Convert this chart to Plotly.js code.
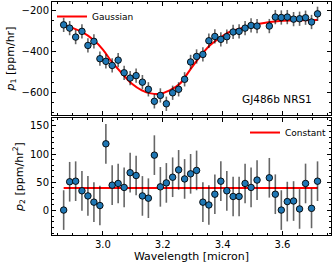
<!DOCTYPE html>
<html>
<head>
<meta charset="utf-8">
<script src="https://cdn.plot.ly/plotly-3.0.1.min.js"></script>
<style>html,body{margin:0;padding:0;background:#fff;}#chart{width:332px;height:266px;}</style>
</head>
<body>
<div id="chart"></div>
<script>
// Wavelength bins (micron)
const wavelength = [2.869, 2.889, 2.909, 2.930, 2.950, 2.970, 2.990, 3.010, 3.031, 3.051,
  3.071, 3.091, 3.111, 3.132, 3.152, 3.172, 3.192, 3.212, 3.233, 3.253,
  3.273, 3.293, 3.313, 3.334, 3.354, 3.374, 3.394, 3.414, 3.435, 3.455,
  3.475, 3.495, 3.515, 3.556, 3.576, 3.596, 3.616, 3.637, 3.657, 3.677,
  3.697, 3.717];
// p1 [ppm/hr]
const p1 = [-269, -285, -329, -301, -370, -350, -435, -448, -468, -442,
  -504, -530, -518, -550, -585, -644, -615, -656, -602, -585,
  -536, -451, -424, -414, -347, -326, -340, -327, -304, -301,
  -285, -272, -275, -275, -231, -233, -231, -241, -239, -234,
  -255, -215];
const p1Err = [35, 35, 35, 35, 35, 35, 35, 35, 35, 35, 35, 35, 35, 35, 35, 35, 35, 35, 35, 35, 35,
  35, 35, 35, 35, 35, 35, 35, 35, 35, 35, 35, 35, 35, 35, 35, 35, 35, 35, 35, 35, 35];
// p2 [ppm/hr^2]
const p2 = [1, 51, 52, 35, 26, 15, 9, 118, 45, 48,
  41, 67, 62, 26, 22, 98, 42, 49, 59, 72,
  56, 65, 71, 15, 10, 29, 52, 35, 25, 25,
  48, 41, 54, 58, 29, 1, 16, 17, 3, 48,
  4, 52];
const p2Err = [35, 35, 35, 35, 35, 35, 35, 35, 35, 35, 35, 35, 35, 35, 35, 35, 35, 35, 35, 35, 35,
  35, 35, 35, 35, 35, 35, 35, 35, 35, 35, 35, 35, 35, 35, 35, 35, 35, 35, 35, 35, 35];
// Gaussian model curve
const gaussX = [2.87, 2.93, 2.97, 3.00, 3.03, 3.065, 3.097, 3.13, 3.16, 3.19, 3.223, 3.257,
  3.29, 3.323, 3.357, 3.39, 3.423, 3.457, 3.49, 3.523, 3.59, 3.657, 3.717];
const gaussY = [-269, -304, -345, -390, -451, -509, -558, -590, -605, -607, -590, -558,
  -492, -427, -370, -334, -304, -288, -275, -264, -250, -246, -245];
// Constant model
const constX = [2.869, 3.717];
const constY = [40, 40];

const FONT = 'DejaVu Sans, sans-serif';
const markerStyle = {color: '#1f77b4', size: 6.5, line: {color: '#000', width: 0.9}};
const errStyle = (arr) => ({type: 'data', array: arr, visible: true, color: 'rgba(0,0,0,0.6)', thickness: 1.6, width: 0});

const traces = [
  {x: gaussX, y: gaussY, type: 'scatter', mode: 'lines', line: {color: '#ff0000', width: 2, shape: 'spline'},
   name: 'Gaussian', xaxis: 'x', yaxis: 'y', legend: 'legend'},
  {x: wavelength, y: p1, type: 'scatter', mode: 'markers', marker: markerStyle, error_y: errStyle(p1Err),
   showlegend: false, xaxis: 'x', yaxis: 'y'},
  {x: constX, y: constY, type: 'scatter', mode: 'lines', line: {color: '#ff0000', width: 2},
   name: 'Constant', xaxis: 'x2', yaxis: 'y2', legend: 'legend2'},
  {x: wavelength, y: p2, type: 'scatter', mode: 'markers', marker: markerStyle, error_y: errStyle(p2Err),
   showlegend: false, xaxis: 'x2', yaxis: 'y2'}
];

const axCommon = {
  showline: true, linecolor: '#000', linewidth: 1, mirror: 'allticks',
  ticks: 'inside', ticklen: 4, tickwidth: 1, tickcolor: '#000',
  showgrid: false, zeroline: false,
  tickfont: {family: FONT, size: 10, color: '#000'}
};

const layout = {
  width: 332, height: 266,
  margin: {l: 52, r: 1, t: 2, b: 31},
  paper_bgcolor: '#fff', plot_bgcolor: '#fff',
  font: {family: FONT, color: '#000'},
  xaxis: Object.assign({}, axCommon, {domain: [0, 1], anchor: 'y', matches: 'x2', range: [2.83, 3.762],
    dtick: 0.2, tick0: 0, showticklabels: false,
    minor: {ticks: 'inside', ticklen: 2, dtick: 0.05, tick0: 0, tickcolor: '#000', showgrid: false}}),
  yaxis: Object.assign({}, axCommon, {domain: [0.515, 1], anchor: 'x', range: [-711, -157],
    dtick: 200, tick0: 0,
    minor: {ticks: 'inside', ticklen: 2, dtick: 50, tick0: 0, tickcolor: '#000', showgrid: false},
    title: {text: '<i>p</i><sub>1</sub> [ppm/hr]', font: {family: FONT, size: 11}, standoff: 4}}),
  xaxis2: Object.assign({}, axCommon, {domain: [0, 1], anchor: 'y2', range: [2.83, 3.762],
    dtick: 0.2, tick0: 0, tickformat: '.1f',
    minor: {ticks: 'inside', ticklen: 2, dtick: 0.05, tick0: 0, tickcolor: '#000', showgrid: false},
    title: {text: 'Wavelength [micron]', font: {family: FONT, size: 11}, standoff: 2}}),
  yaxis2: Object.assign({}, axCommon, {domain: [0, 0.502], anchor: 'x2', range: [-43, 163.5],
    dtick: 50, tick0: 0,
    minor: {ticks: 'inside', ticklen: 2, dtick: 10, tick0: 0, tickcolor: '#000', showgrid: false},
    title: {text: '<i>p</i><sub>2</sub> [ppm/hr<sup>2</sup>]', font: {family: FONT, size: 11}, standoff: 4}}),
  legend: {x: 0.0, y: 1.0, xanchor: 'left', yanchor: 'top', bgcolor: 'rgba(0,0,0,0)',
    font: {family: FONT, size: 9}, itemwidth: 30, tracegroupgap: 0},
  legend2: {x: 1.0, y: 0.502, xanchor: 'right', yanchor: 'top', bgcolor: 'rgba(0,0,0,0)',
    font: {family: FONT, size: 9}, itemwidth: 30},
  annotations: [
    {text: 'GJ486b NRS1', xref: 'paper', yref: 'paper', x: 0.94, y: 0.584, xanchor: 'right', yanchor: 'middle',
     showarrow: false, font: {family: FONT, size: 10.5, color: '#000'}}
  ]
};

Plotly.newPlot('chart', traces, layout, {staticPlot: true, displayModeBar: false});
</script>
</body>
</html>
